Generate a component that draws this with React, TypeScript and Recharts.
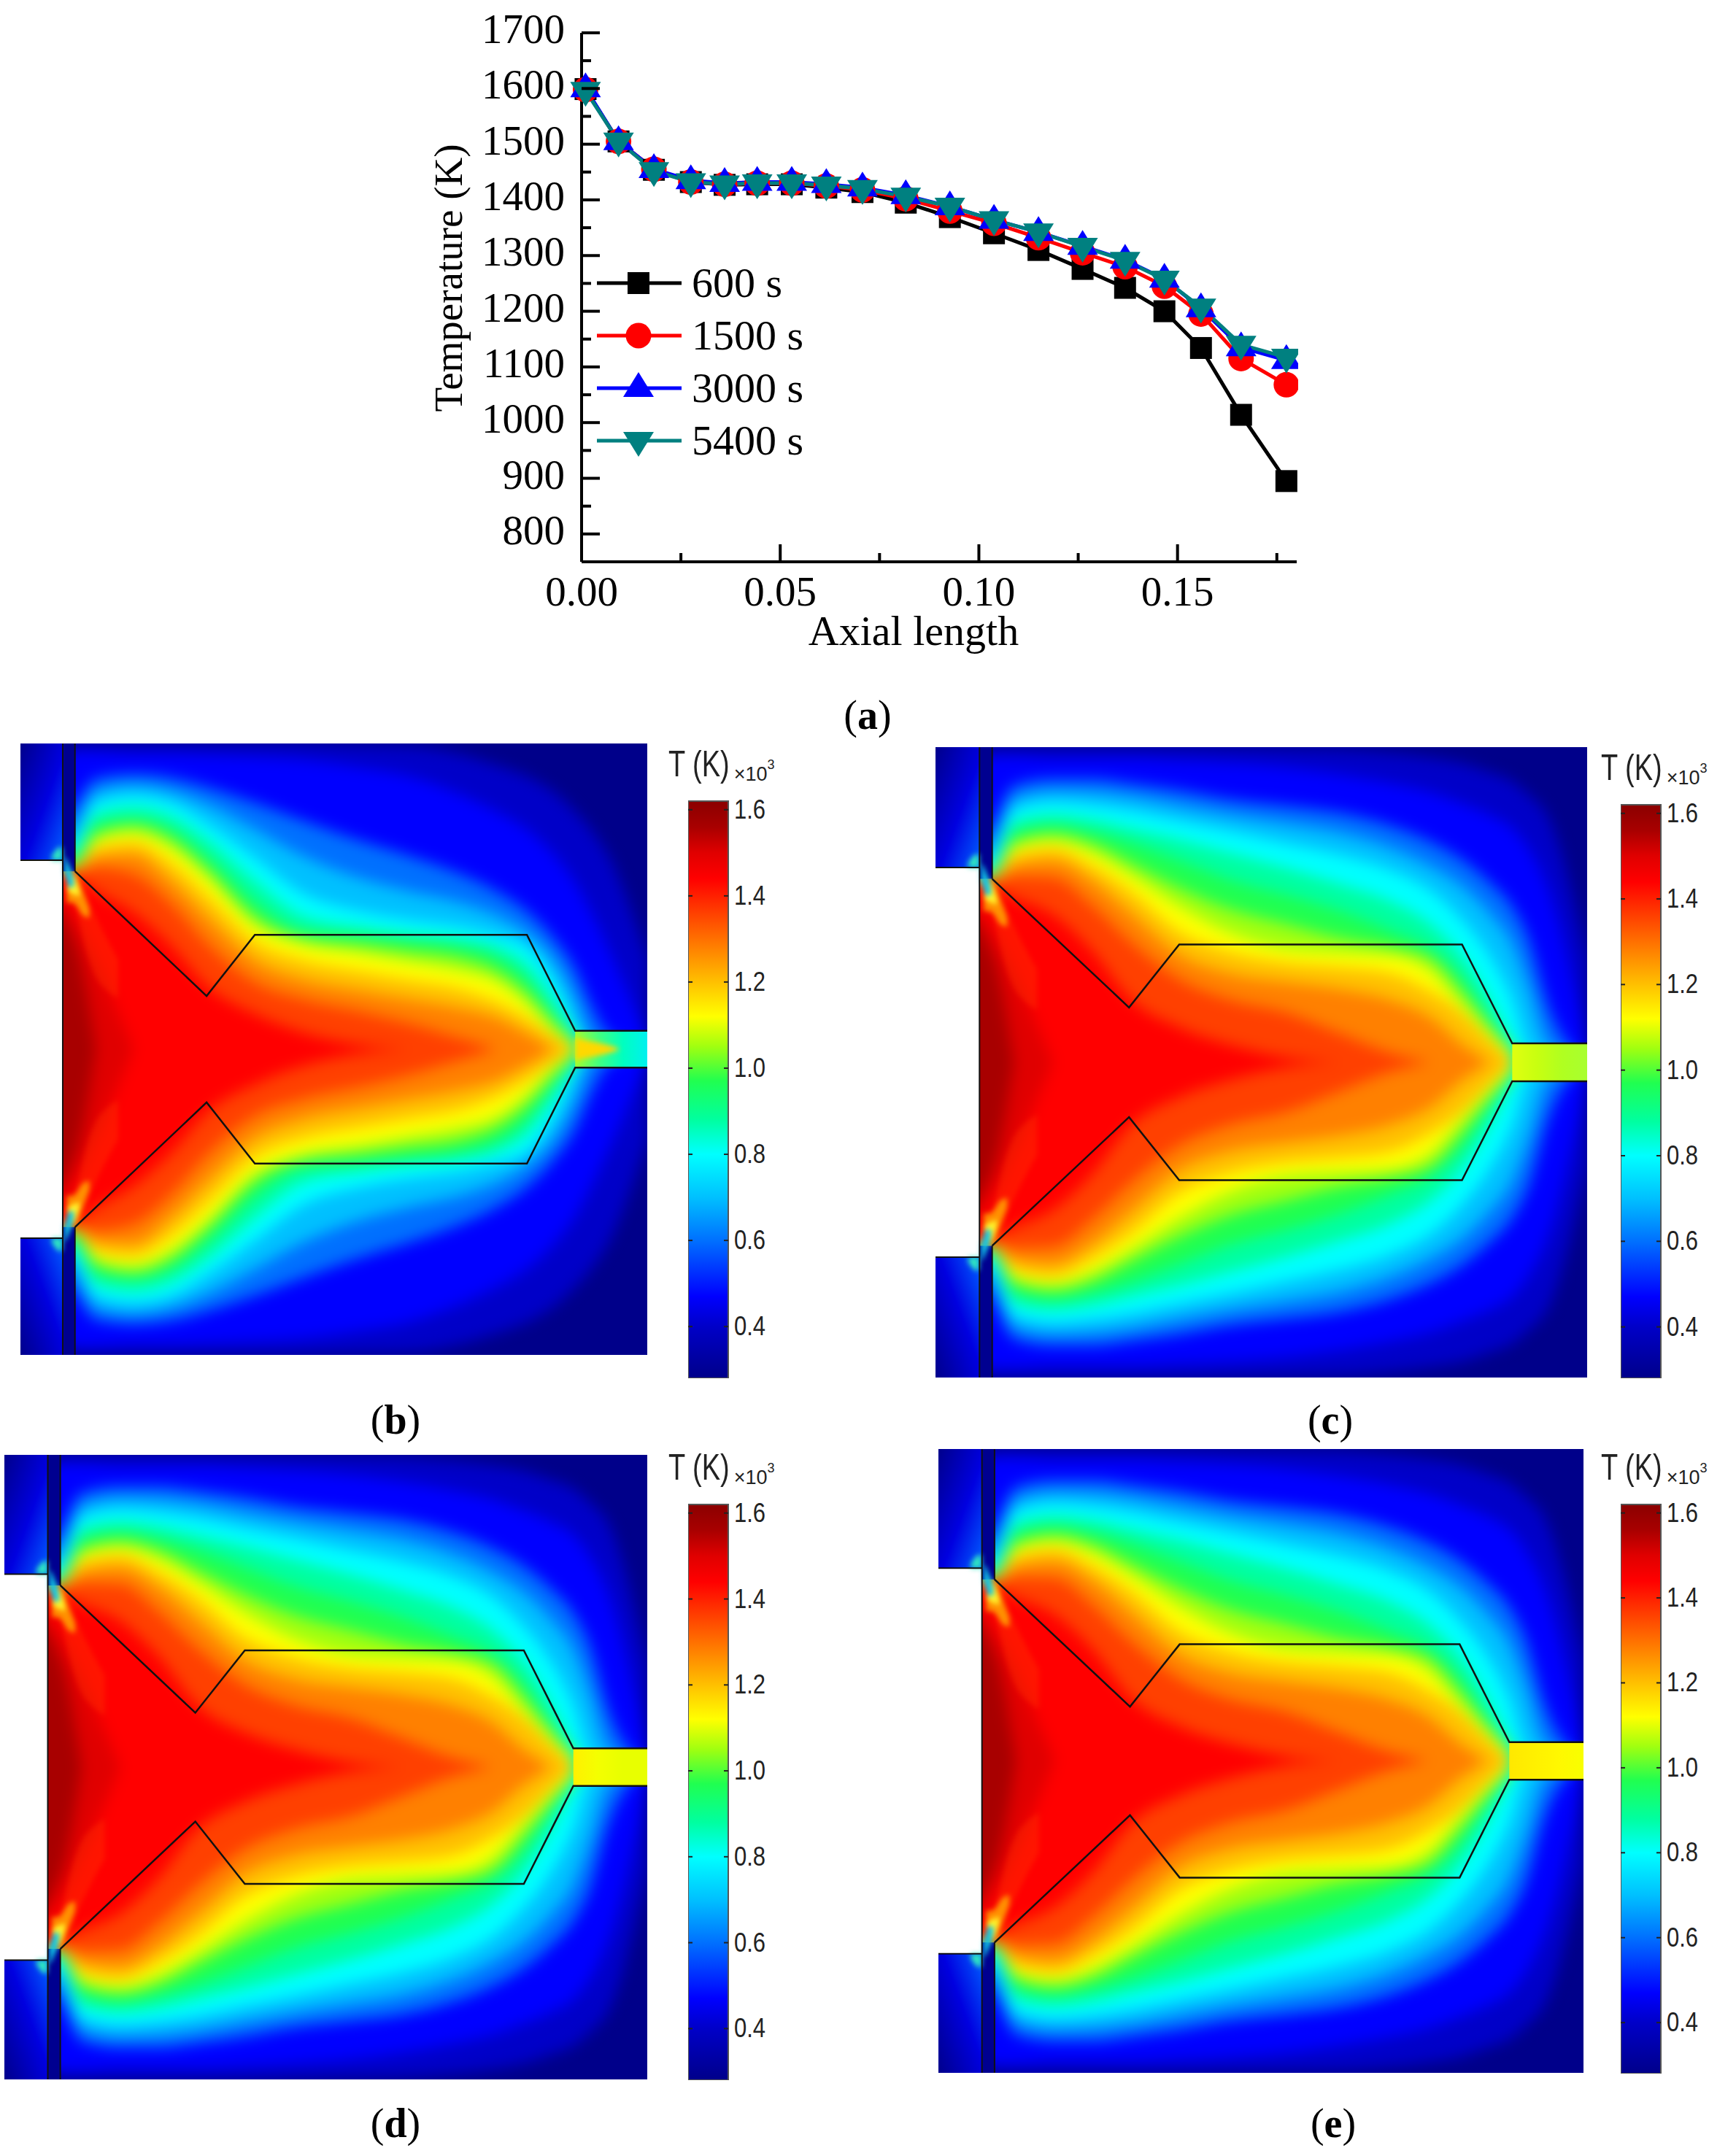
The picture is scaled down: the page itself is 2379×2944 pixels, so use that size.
import React from 'react';
import {
  Area,
  Bar,
  BarChart,
  ComposedChart,
  Legend,
  Line,
  LineChart,
  ReferenceArea,
  ReferenceLine,
  XAxis,
  YAxis,
} from 'recharts';

// (a) axial temperature profiles
const axialLength = [0.001, 0.0093, 0.0182, 0.0275, 0.036, 0.0442, 0.0529, 0.0616, 0.0707, 0.0816, 0.0927, 0.1038, 0.115, 0.1261, 0.1368, 0.1467, 0.1559, 0.166, 0.1774];
const temp600 = [1599, 1505, 1454, 1432, 1427, 1428, 1428, 1422, 1414, 1395, 1369, 1340, 1310, 1276, 1242, 1200, 1134, 1014, 895];
const temp1500 = [1598, 1505, 1455, 1432, 1428, 1430, 1430, 1425, 1418, 1402, 1380, 1358, 1332, 1305, 1280, 1245, 1195, 1115, 1068];
const temp3000 = [1600, 1505, 1455, 1435, 1430, 1432, 1432, 1428, 1422, 1408, 1388, 1364, 1342, 1317, 1292, 1258, 1205, 1135, 1112];
const temp5400 = [1596, 1505, 1452, 1432, 1428, 1430, 1430, 1426, 1420, 1406, 1388, 1364, 1342, 1316, 1291, 1257, 1207, 1140, 1117];

const leftTicks = [800, 850, 900, 950, 1000, 1050, 1100, 1150, 1200, 1250, 1300, 1350, 1400, 1450, 1500, 1550, 1600, 1650, 1700];
const rightTicks = [845, 940, 1034, 1129, 1224, 1320, 1414, 1509, 1605];
const bottomTicks = [0, 0.025, 0.05, 0.075, 0.1, 0.125, 0.15, 0.175];
const topTicks = [0.0182, 0.036, 0.054, 0.0719, 0.0898, 0.1079, 0.1258, 0.1439, 0.1618];

// (b)-(e) temperature field: half width of each isotherm around the axis, per station
const stations = [0, 8.7, 12, 18, 24, 30, 37.4, 45, 54, 62, 70, 76, 80.8, 85, 88.5, 91, 94, 100];
const levelTemps = [0.4, 0.47, 0.6, 0.7, 0.8, 0.88, 0.97, 1.05, 1.12, 1.2, 1.28, 1.36, 1.44, 1.5, 1.56];
const levelColors = ['#0000c8', '#0000ff', '#0070ff', '#00c0ff', '#00ffff', '#00ffa0', '#20ff50', '#a0ff10', '#ffff00', '#ffc000', '#ff8000', '#ff4000', '#ff0000', '#e00000', '#a80000'];

const early040 = [410, 692, 692, 692, 692, 692, 692, 690, 687, 684, 667, 642, 617, 582, 537, 497, 432, 202];
const early047 = [410, 672, 672, 667, 667, 664, 660, 654, 637, 617, 577, 537, 497, 442, 377, 312, 222, 22];
const early060 = [410, 552, 612, 622, 614, 592, 557, 517, 472, 437, 397, 357, 312, 252, 182, 102, 32, 0];
const early070 = [410, 502, 582, 597, 584, 552, 497, 437, 387, 357, 332, 302, 262, 202, 112, 22, 0];
const early080 = [410, 477, 557, 572, 557, 507, 432, 352, 312, 292, 277, 257, 232, 157, 57, 0];
const early088 = [410, 452, 532, 547, 527, 472, 382, 302, 277, 262, 252, 232, 192, 112, 32, 0];
const early097 = [410, 432, 507, 520, 497, 432, 332, 267, 257, 247, 232, 207, 157, 82, 22];
const early105 = [410, 417, 485, 505, 475, 405, 300, 252, 237, 222, 207, 177, 127, 62, 12];
const early112 = [410, 412, 472, 488, 455, 385, 280, 237, 217, 197, 177, 152, 102, 42, 7];
const early120 = [408, 408, 455, 468, 422, 345, 245, 202, 177, 157, 137, 107, 70, 30, 0];
const early128 = [406, 406, 435, 440, 380, 295, 200, 157, 132, 112, 92, 70, 35, 0];
const early136 = [404, 404, 410, 395, 328, 235, 150, 112, 85, 58, 25, 0];
const early144 = [375, 387, 358, 310, 235, 140, 80, 38, 10, 0];
const early150 = [405, 300, 200, 0];
const early156 = [400, 240, 0];
const earlyField = [early040, early047, early060, early070, early080, early088, early097, early105, early112, early120, early128, early136, early144, early150, early156];

const late040 = [410, 704, 704, 704, 704, 704, 704, 702, 700, 698, 690, 680, 668, 648, 628, 598, 548, 228];
const late047 = [410, 683, 683, 678, 678, 678, 673, 668, 658, 643, 623, 603, 578, 553, 523, 478, 388, 30];
const late060 = [410, 528, 618, 633, 633, 623, 608, 588, 573, 558, 528, 493, 453, 403, 348, 278, 128, 0];
const late070 = [410, 488, 588, 606, 603, 593, 573, 553, 533, 513, 478, 438, 393, 333, 263, 168, 38, 0];
const late080 = [410, 458, 563, 580, 573, 560, 538, 516, 488, 463, 428, 383, 318, 238, 138, 28, 0];
const late088 = [410, 433, 538, 553, 543, 523, 498, 468, 433, 398, 358, 308, 238, 143, 48, 0];
const late097 = [410, 423, 513, 530, 515, 490, 450, 408, 373, 338, 293, 253, 188, 98, 28];
const late105 = [410, 416, 492, 510, 490, 445, 390, 343, 308, 278, 258, 233, 158, 83, 23];
const late112 = [410, 412, 478, 495, 468, 418, 348, 290, 253, 245, 238, 203, 128, 63, 16];
const late120 = [410, 410, 462, 478, 440, 382, 292, 248, 223, 213, 198, 158, 110, 50, 0];
const late128 = [408, 408, 440, 450, 405, 332, 240, 198, 178, 163, 138, 100, 40, 0];
const late136 = [405, 406, 415, 412, 350, 268, 185, 140, 110, 65, 20, 0];
const late144 = [380, 388, 368, 330, 250, 140, 78, 40, 10, 0];
const late150 = [405, 300, 200, 0];
const late156 = [400, 240, 0];
const lateField = [late040, late047, late060, late070, late080, late088, late097, late105, late112, late120, late128, late136, late144, late150, late156];

// cold wake fanning out of each inlet corner, percent of panel
const wakeRedX = [8.9, 10.5, 12, 13.7, 15.6];
const wakeRedHi = [28.9, 25.4, 21.8, 18.3, 14.7];
const wakeRedLo = [23.2, 16.1, 11.9, 9.7, 8.3];
const wakeOrangeX = [7.4, 8.2, 8.9, 9.9, 11];
const wakeOrangeHi = [28, 28.9, 28.5, 26, 23];
const wakeOrangeLo = [24, 24, 23.5, 22, 21.5];
const wakeYellowX = [7.5, 8.2, 8.8, 9.4];
const wakeYellowHi = [28, 28.7, 27.8, 26];
const wakeYellowLo = [25.8, 25.5, 25.2, 25];
const wakeCyanX = [7, 7.4, 7.8, 8.2, 8.5];
const wakeCyanHi = [31.5, 31, 30, 29, 27.5];
const wakeCyanLo = [29, 27.5, 26.5, 26.5, 26.5];
const spotX = [5, 5.6, 6.2, 6.7];
const spotHi = [31.6, 32.5, 33, 33];
const spotLo = [30.9, 30.9, 30.9, 30.9];

// hot tongue entering the outlet at the earliest time
const tipX = [88.5, 90, 92, 94, 95.5];
const tipHalf = [1.9, 1.5, 1.1, 0.6, 0.1];

// reactor outline, percent of panel
const outlineX = [8.7, 29.7, 37.4, 80.8, 88.5, 100];
const outlineHalf = [29.1, 8.7, 18.7, 18.7, 3, 3];

const colorbarTicks = [0.4, 0.6, 0.8, 1.0, 1.2, 1.4, 1.6];
const colorbarRange = [0.28, 1.62];

const SERIF = '"Liberation Serif", serif';
const SANS = '"Liberation Sans", sans-serif';

const profileRows = axialLength.map((x, i) => ({
  x,
  t600: temp600[i],
  t1500: temp1500[i],
  t3000: temp3000[i],
  t5400: temp5400[i],
}));

const profileSeries = [
  { key: 't600', name: '600 s', color: '#000000', marker: 'square' },
  { key: 't1500', name: '1500 s', color: '#ff0000', marker: 'circle' },
  { key: 't3000', name: '3000 s', color: '#0000ff', marker: 'up' },
  { key: 't5400', name: '5400 s', color: '#008080', marker: 'down' },
];

const Marker = ({ kind, cx, cy, color }: { kind: string; cx: number; cy: number; color: string }) => {
  if (kind === 'square') return <rect x={cx - 15} y={cy - 15} width={30} height={30} fill={color} />;
  if (kind === 'circle') return <circle cx={cx} cy={cy} r={17.5} fill={color} />;
  if (kind === 'up') return <polygon points={`${cx},${cy - 22} ${cx + 21},${cy + 12} ${cx - 21},${cy + 12}`} fill={color} />;
  return <polygon points={`${cx},${cy + 22} ${cx + 21},${cy - 12} ${cx - 21},${cy - 12}`} fill={color} />;
};

const ProfileLegend = () => (
  <div style={{ fontFamily: SERIF, fontSize: 58, lineHeight: '72px', color: '#000' }}>
    {profileSeries.map((s) => (
      <div key={s.key} style={{ display: 'flex', alignItems: 'center', height: 72 }}>
        <svg width={120} height={72} style={{ marginRight: 10 }}>
          <line x1={0} x2={116} y1={36} y2={36} stroke={s.color} strokeWidth={5} />
          <Marker kind={s.marker} cx={57} cy={36} color={s.color} />
        </svg>
        <span>{s.name}</span>
      </div>
    ))}
  </div>
);

const LeftTick = ({ x, y, payload }: any) => {
  const major = payload.value % 100 === 0;
  return (
    <g>
      <line x1={x} x2={x + (major ? 25 : 13)} y1={y} y2={y} stroke="#000" strokeWidth={4} />
      {major && (
        <text x={x - 23} y={y + 14} textAnchor="end" fontFamily={SERIF} fontSize={57} fill="#000">
          {payload.value}
        </text>
      )}
    </g>
  );
};

const RightTick = ({ x, y, index }: any) => (
  <line x1={x} x2={x - (index % 2 === 1 ? 24 : 12)} y1={y} y2={y} stroke="#000" strokeWidth={4} />
);

const BottomTick = ({ x, y, index, payload }: any) => {
  const major = index % 2 === 0;
  return (
    <g>
      <line x1={x} x2={x} y1={y} y2={y - (major ? 24 : 12)} stroke="#000" strokeWidth={4} />
      {major && index < 7 && (
        <text x={x} y={y + 60} textAnchor="middle" fontFamily={SERIF} fontSize={57} fill="#000">
          {payload.value.toFixed(2)}
        </text>
      )}
    </g>
  );
};

const TopTick = ({ x, y, index }: any) => (
  <line x1={x} x2={x} y1={y} y2={y + (index % 2 === 1 ? 20 : 11)} stroke="#000" strokeWidth={4} />
);

const ProfileChart = () => (
  <div style={{ position: 'absolute', left: 500, top: 0 }}>
    <LineChart width={1279} height={930} data={profileRows} margin={{ top: 45, right: 2, left: 0, bottom: 0 }}>
      <XAxis
        xAxisId="bottom"
        type="number"
        dataKey="x"
        domain={[0, 0.18]}
        ticks={bottomTicks}
        interval={0}
        height={160}
        tickSize={0}
        tickMargin={0}
        tickLine={false}
        tick={BottomTick}
        axisLine={{ stroke: '#000', strokeWidth: 4 }}
        label={{
          content: () => (
            <text x={752} y={884} textAnchor="middle" fontFamily={SERIF} fontSize={58} fill="#000">
              Axial length
            </text>
          ),
        }}
      />
      <XAxis
        xAxisId="top"
        orientation="top"
        type="number"
        dataKey="x"
        domain={[0, 0.18]}
        ticks={topTicks}
        interval={0}
        height={0}
        tickSize={0}
        tickMargin={0}
        tickLine={false}
        tick={TopTick}
        axisLine={{ stroke: '#000', strokeWidth: 4 }}
      />
      <YAxis
        yAxisId="left"
        type="number"
        domain={[750, 1700]}
        ticks={leftTicks}
        interval={0}
        width={297}
        tickSize={0}
        tickMargin={0}
        tickLine={false}
        tick={LeftTick}
        axisLine={{ stroke: '#000', strokeWidth: 4 }}
        label={{
          content: () => (
            <text transform="translate(133,381) rotate(-90)" textAnchor="middle" fontFamily={SERIF} fontSize={55} fill="#000">
              Temperature (K)
            </text>
          ),
        }}
      />
      <YAxis
        yAxisId="right"
        orientation="right"
        type="number"
        domain={[750, 1700]}
        ticks={rightTicks}
        interval={0}
        width={0}
        tickSize={0}
        tickMargin={0}
        tickLine={false}
        tick={RightTick}
        axisLine={{ stroke: '#000', strokeWidth: 4 }}
      />
      {profileSeries.map((s) => (
        <Line
          key={s.key}
          xAxisId="bottom"
          yAxisId="left"
          type="linear"
          dataKey={s.key}
          name={s.name}
          stroke={s.color}
          strokeWidth={5}
          isAnimationActive={false}
          dot={(p: any) => <Marker key={p.index} kind={s.marker} cx={p.cx} cy={p.cy} color={s.color} />}
        />
      ))}
      <Legend
        layout="vertical"
        align="center"
        verticalAlign="middle"
        content={ProfileLegend}
        wrapperStyle={{ left: 318, top: 352, width: 320 }}
      />
    </LineChart>
  </div>
);

const buildFieldRows = (field: number[][]) =>
  stations.map((x, i) => {
    const row: any = { x };
    field.forEach((half, l) => {
      row[`l${l}`] = half[i] === undefined ? null : [-half[i], half[i]];
    });
    return row;
  });

const bandRows = (xs: number[], lo: number[], hi: number[]) => xs.map((x, i) => ({ x, band: [lo[i], hi[i]] }));
const mirroredRows = (xs: number[], lo: number[], hi: number[]) => xs.map((x, i) => ({ x, band: [-hi[i], -lo[i]] }));

const wakes = [
  { x: wakeRedX, lo: wakeRedLo, hi: wakeRedHi, color: '#ff3c00', opacity: 0.35 },
  { x: wakeOrangeX, lo: wakeOrangeLo, hi: wakeOrangeHi, color: '#ffb000', opacity: 0.8 },
  { x: wakeYellowX, lo: wakeYellowLo, hi: wakeYellowHi, color: '#ffff30', opacity: 0.9 },
  { x: wakeCyanX, lo: wakeCyanLo, hi: wakeCyanHi, color: '#10c8e8', opacity: 1 },
  { x: spotX, lo: spotLo, hi: spotHi, color: '#30e8c0', opacity: 1 },
];

const outlineUpper = outlineX.map((x, i) => ({ x, y: outlineHalf[i] }));
const outlineLower = outlineX.map((x, i) => ({ x, y: -outlineHalf[i] }));

const segment = (x1: number, y1: number, x2: number, y2: number) => [
  { x: x1, y: y1 },
  { x: x2, y: y2 },
];

const wallLines = [
  segment(6.75, -50, 6.75, 50),
  segment(8.7, 29.1, 8.7, 50),
  segment(8.7, -50, 8.7, -29.1),
  segment(0, 30.9, 6.75, 30.9),
  segment(0, -30.9, 6.75, -30.9),
];

const zeroMargin = { top: 0, right: 0, bottom: 0, left: 0 };

interface FieldProps {
  id: string;
  left: number;
  top: number;
  width: number;
  height: number;
  field: number[][];
  halfSpan: number;
  channelColors: string[];
  showTip: boolean;
}

const TemperatureField = ({ id, left, top, width, height, field, halfSpan, channelColors, showTip }: FieldProps) => {
  const rows = buildFieldRows(field);
  return (
    <div style={{ position: 'absolute', left, top, width, height, overflow: 'hidden', background: '#00008a' }}>
      <div style={{ position: 'absolute', left: 0, top: 0, filter: 'blur(10px)' }}>
        <ComposedChart width={width} height={height} data={rows} margin={zeroMargin}>
          <XAxis type="number" dataKey="x" domain={[0, 100]} hide />
          <YAxis type="number" domain={[-halfSpan, halfSpan]} hide allowDataOverflow />
          {levelColors.map((color, l) => (
            <Area
              key={l}
              type="monotone"
              dataKey={`l${l}`}
              fill={color}
              fillOpacity={1}
              stroke="none"
              dot={false}
              activeDot={false}
              isAnimationActive={false}
            />
          ))}
        </ComposedChart>
      </div>
      <div style={{ position: 'absolute', left: 0, top: 0 }}>
        <ComposedChart width={width} height={height} margin={zeroMargin}>
          <defs>
            <linearGradient id={`channel-${id}`} x1="0" y1="0" x2="1" y2="0">
              {channelColors.map((c, i) => (
                <stop key={i} offset={i / (channelColors.length - 1)} stopColor={c} />
              ))}
            </linearGradient>
            <linearGradient id={`inletTop-${id}`} x1="0" y1="0" x2="1" y2="1">
              <stop offset="0" stopColor="#00008c" />
              <stop offset="0.55" stopColor="#0000e0" />
              <stop offset="1" stopColor="#0060ff" />
            </linearGradient>
            <linearGradient id={`inletBottom-${id}`} x1="0" y1="1" x2="1" y2="0">
              <stop offset="0" stopColor="#00008c" />
              <stop offset="0.55" stopColor="#0000e0" />
              <stop offset="1" stopColor="#0060ff" />
            </linearGradient>
          </defs>
          <XAxis type="number" dataKey="x" domain={[0, 100]} hide />
          <YAxis type="number" domain={[-50, 50]} hide />
          <Line data={outlineUpper} dataKey="y" stroke="none" dot={false} isAnimationActive={false} />
          <ReferenceArea x1={0} x2={6.75} y1={-30.9} y2={30.9} fill="#ffffff" fillOpacity={1} stroke="none" />
          <ReferenceArea x1={0} x2={6.75} y1={30.9} y2={50} fill={`url(#inletTop-${id})`} fillOpacity={1} stroke="none" />
          <ReferenceArea x1={0} x2={6.75} y1={-50} y2={-30.9} fill={`url(#inletBottom-${id})`} fillOpacity={1} stroke="none" />
          <ReferenceArea x1={6.75} x2={8.7} y1={29.1} y2={50} fill="#000090" fillOpacity={1} stroke="none" />
          <ReferenceArea x1={6.75} x2={8.7} y1={-50} y2={-29.1} fill="#000090" fillOpacity={1} stroke="none" />
          <ReferenceArea x1={88.5} x2={100} y1={-3} y2={3} fill={`url(#channel-${id})`} fillOpacity={1} stroke="none" />
        </ComposedChart>
      </div>
      <div style={{ position: 'absolute', left: 0, top: 0, filter: 'blur(3.5px)' }}>
        <ComposedChart width={width} height={height} margin={zeroMargin}>
          <XAxis type="number" dataKey="x" domain={[0, 100]} hide />
          <YAxis type="number" domain={[-50, 50]} hide />
          {wakes.map((w, i) => (
            <Area key={`u${i}`} data={bandRows(w.x, w.lo, w.hi)} type="monotone" dataKey="band" fill={w.color} fillOpacity={w.opacity} stroke="none" isAnimationActive={false} />
          ))}
          {wakes.map((w, i) => (
            <Area key={`d${i}`} data={mirroredRows(w.x, w.lo, w.hi)} type="monotone" dataKey="band" fill={w.color} fillOpacity={w.opacity} stroke="none" isAnimationActive={false} />
          ))}
          {showTip && (
            <Area
              data={bandRows(tipX, tipHalf.map((h) => -h), tipHalf)}
              type="monotone"
              dataKey="band"
              fill="#ffd800"
              fillOpacity={1}
              stroke="none"
              isAnimationActive={false}
            />
          )}
        </ComposedChart>
      </div>
      <div style={{ position: 'absolute', left: 0, top: 0 }}>
        <ComposedChart width={width} height={height} margin={zeroMargin}>
          <XAxis type="number" dataKey="x" domain={[0, 100]} hide />
          <YAxis type="number" domain={[-50, 50]} hide />
          <Line data={outlineUpper} dataKey="y" type="linear" stroke="#111" strokeWidth={2.5} dot={false} isAnimationActive={false} />
          <Line data={outlineLower} dataKey="y" type="linear" stroke="#111" strokeWidth={2.5} dot={false} isAnimationActive={false} />
          {wallLines.map((seg, i) => (
            <ReferenceLine key={i} segment={seg} stroke="#111" strokeWidth={2} />
          ))}
        </ComposedChart>
      </div>
    </div>
  );
};

const barStops = [
  { t: colorbarRange[0], color: '#00008a' },
  ...levelTemps.map((t, i) => ({ t, color: levelColors[i] })),
  { t: colorbarRange[1], color: '#8b0000' },
];

interface ColorbarProps {
  id: string;
  left: number;
  top: number;
  height: number;
}

const Colorbar = ({ id, left, top, height }: ColorbarProps) => {
  const span = colorbarRange[1] - colorbarRange[0];
  const barWidth = 55;
  const pad = 20;
  const ColorbarTick = ({ x, y, payload }: any) => (
    <g>
      <line x1={x - barWidth} x2={x - barWidth + 6} y1={y} y2={y} stroke="#222" strokeWidth={2} />
      <line x1={x - 6} x2={x} y1={y} y2={y} stroke="#222" strokeWidth={2} />
      <text transform={`translate(${x + 8},${y + 12}) scale(1,1.22)`} fontFamily={SANS} fontSize={31} fill="#222">
        {payload.value.toFixed(1)}
      </text>
    </g>
  );
  return (
    <div style={{ position: 'absolute', left, top: top - pad }}>
      <BarChart
        width={barWidth + 70}
        height={height + pad}
        data={[{ name: 'T', range: colorbarRange }]}
        barCategoryGap={0}
        margin={{ top: pad, right: 0, bottom: 0, left: 0 }}
      >
        <defs>
          <linearGradient id={`bar-${id}`} x1="0" y1="0" x2="0" y2="1">
            {[...barStops].reverse().map((s, i) => (
              <stop key={i} offset={(colorbarRange[1] - s.t) / span} stopColor={s.color} />
            ))}
          </linearGradient>
        </defs>
        <XAxis dataKey="name" hide />
        <YAxis
          orientation="right"
          type="number"
          domain={colorbarRange}
          ticks={colorbarTicks}
          interval={0}
          width={70}
          tickSize={0}
          tickMargin={0}
          tickLine={false}
          axisLine={false}
          tick={ColorbarTick}
        />
        <Bar dataKey="range" fill={`url(#bar-${id})`} stroke="#555" strokeWidth={2} isAnimationActive={false} />
      </BarChart>
    </div>
  );
};

const panels = [
  { id: 'b', caption: 'b', left: 28, top: 1019, width: 859, height: 838, barLeft: 943, barTop: 1098, barHeight: 791, captionX: 542, captionY: 1946, field: earlyField, halfSpan: 691, showTip: true, channelColors: ['#a0ff30', '#40ff80', '#00ffc0', '#00f0f0'] },
  { id: 'c', caption: 'c', left: 1282, top: 1024, width: 893, height: 864, barLeft: 2221, barTop: 1103, barHeight: 786, captionX: 1823, captionY: 1946, field: lateField, halfSpan: 704, showTip: false, channelColors: ['#e0ff10', '#c8ff10', '#b0ff20', '#a8ff30'] },
  { id: 'd', caption: 'd', left: 6, top: 1994, width: 881, height: 856, barLeft: 943, barTop: 2062, barHeight: 789, captionX: 542, captionY: 2910, field: lateField, halfSpan: 704, showTip: false, channelColors: ['#fff000', '#f4ff00', '#e8ff00', '#e8ff00'] },
  { id: 'e', caption: 'e', left: 1286, top: 1986, width: 884, height: 855, barLeft: 2221, barTop: 2062, barHeight: 780, captionX: 1827, captionY: 2910, field: lateField, halfSpan: 704, showTip: false, channelColors: ['#ffe800', '#fff000', '#fff800', '#f8ff00'] },
];

const Caption = ({ x, y, letter }: { x: number; y: number; letter: string }) => (
  <div
    style={{
      position: 'absolute',
      left: x - 60,
      top: y - 36,
      width: 120,
      textAlign: 'center',
      fontFamily: SERIF,
      fontSize: 56,
      lineHeight: '72px',
      color: '#000',
    }}
  >
    (<b>{letter}</b>)
  </div>
);

const UnitLabel = ({ left, top }: { left: number; top: number }) => (
  <div style={{ position: 'absolute', left, top, fontFamily: SANS, color: '#222', whiteSpace: 'nowrap' }}>
    <span style={{ display: 'inline-block', fontSize: 38, transform: 'scale(1,1.3)' }}>T (K)</span>
    <span style={{ fontSize: 27, marginLeft: 6, position: 'relative', top: 10 }}>×10</span>
    <span style={{ fontSize: 18, position: 'relative', top: -6 }}>3</span>
  </div>
);

export default function App() {
  return (
    <div style={{ position: 'absolute', left: 0, top: 0, width: 2379, height: 2944, background: '#fff', overflow: 'hidden' }}>
      <ProfileChart />
      <Caption x={1189} y={980} letter="a" />
      {panels.map((p) => (
        <React.Fragment key={p.id}>
          <TemperatureField
            id={p.id}
            left={p.left}
            top={p.top}
            width={p.width}
            height={p.height}
            field={p.field}
            halfSpan={p.halfSpan}
            channelColors={p.channelColors}
            showTip={p.showTip}
          />
          <Colorbar id={p.id} left={p.barLeft} top={p.barTop} height={p.barHeight} />
          <UnitLabel left={p.barLeft - 27} top={p.barTop - 72} />
          <Caption x={p.captionX} y={p.captionY} letter={p.caption} />
        </React.Fragment>
      ))}
    </div>
  );
}
